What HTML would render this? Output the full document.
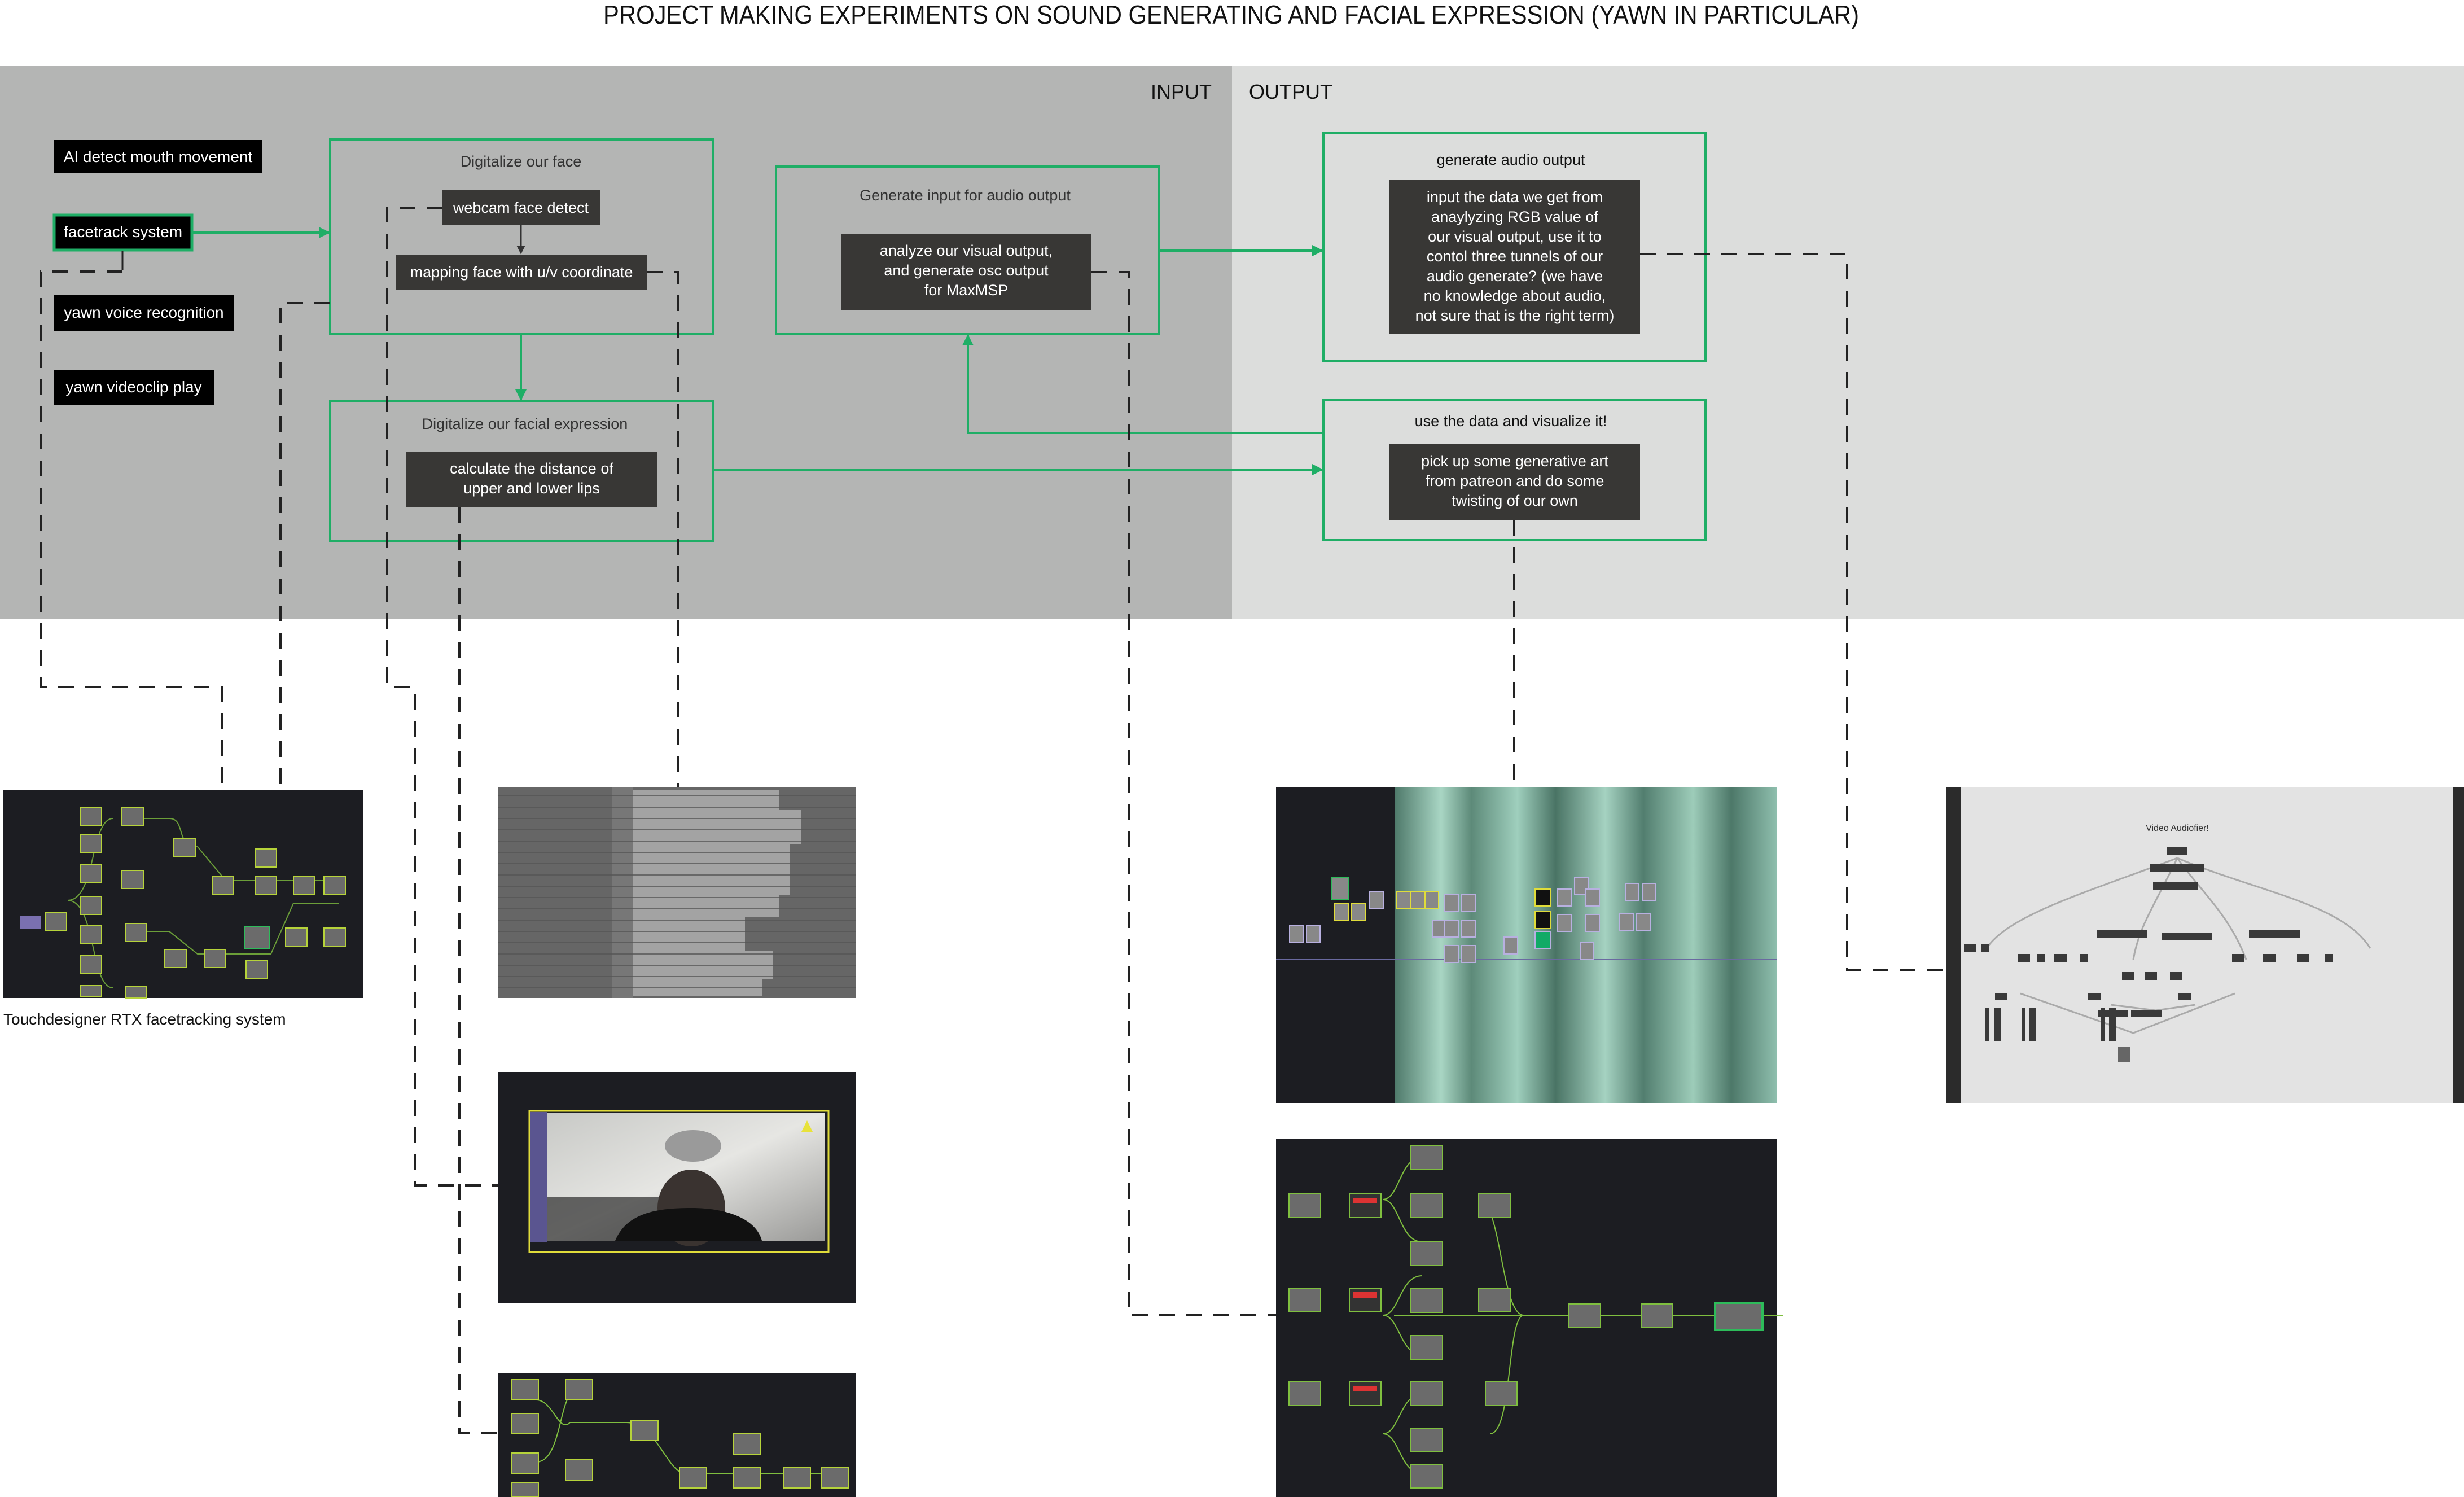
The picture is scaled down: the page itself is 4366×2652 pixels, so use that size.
<!DOCTYPE html>
<html><head><meta charset="utf-8"><style>
html,body{margin:0;padding:0;background:#fff}
svg{display:block}
text{font-family:"Liberation Sans Narrow","Liberation Sans",sans-serif}
</style></head><body>
<svg width="4366" height="2652" viewBox="0 0 4366 2652" xmlns="http://www.w3.org/2000/svg">
<defs>
<marker id="ah" viewBox="0 0 10 10" refX="9" refY="5" markerWidth="5" markerHeight="5" orient="auto"><path d="M0,0 L10,5 L0,10 z" fill="#1fae66"/></marker>
<marker id="ahk" viewBox="0 0 10 10" refX="9" refY="5" markerWidth="5" markerHeight="5" orient="auto"><path d="M0,0 L10,5 L0,10 z" fill="#333"/></marker>
<linearGradient id="fur" x1="0" x2="1" y1="0" y2="0">
<stop offset="0" stop-color="#4f7a6b"/><stop offset="0.12" stop-color="#a9d6c4"/><stop offset="0.2" stop-color="#5d8a79"/>
<stop offset="0.32" stop-color="#9fcfbd"/><stop offset="0.42" stop-color="#4a7465"/><stop offset="0.55" stop-color="#a5d2c1"/>
<stop offset="0.65" stop-color="#527e6f"/><stop offset="0.78" stop-color="#9dccb9"/><stop offset="0.88" stop-color="#4d7869"/><stop offset="1" stop-color="#8fbfae"/>
</linearGradient>
<linearGradient id="room" x1="0" x2="1" y1="0" y2="1">
<stop offset="0" stop-color="#c8c9c6"/><stop offset="0.5" stop-color="#e6e6e3"/><stop offset="1" stop-color="#9a9a98"/>
</linearGradient>
</defs>

<text x="1069" y="42" font-size="46" textLength="2225" lengthAdjust="spacingAndGlyphs" fill="#111">PROJECT MAKING EXPERIMENTS ON SOUND GENERATING AND FACIAL EXPRESSION (YAWN IN PARTICULAR)</text>

<rect x="0" y="117" width="2183" height="980" fill="#b4b5b4"/>
<rect x="2183" y="117" width="2183" height="980" fill="#dcdddc"/>
<text x="2147" y="175" font-size="36" text-anchor="end" fill="#111">INPUT</text>
<text x="2213" y="175" font-size="36" fill="#111">OUTPUT</text>

<rect x="95" y="248" width="370" height="58" fill="#000"/>
<text x="280" y="287" font-size="28" fill="#fff" text-anchor="middle">AI detect mouth movement</text>
<rect x="96" y="381" width="244" height="62" fill="#000" stroke="#1fae66" stroke-width="5"/>
<text x="218" y="420" font-size="28" fill="#fff" text-anchor="middle">facetrack system</text>
<rect x="95" y="523" width="320" height="63" fill="#000"/>
<text x="255" y="563" font-size="28" fill="#fff" text-anchor="middle">yawn voice recognition</text>
<rect x="95" y="655" width="285" height="62" fill="#000"/>
<text x="237" y="695" font-size="28" fill="#fff" text-anchor="middle">yawn videoclip play</text>

<g fill="none" stroke="#1fae66" stroke-width="4">
<rect x="585" y="247" width="678" height="345"/>
<rect x="585" y="710" width="678" height="248"/>
<rect x="1375" y="295" width="678" height="297"/>
<rect x="2345" y="236" width="677" height="404"/>
<rect x="2345" y="709" width="677" height="247"/>
</g>
<g font-size="27" fill="#333" text-anchor="middle">
<text x="923" y="295">Digitalize our face</text>
<text x="930" y="760">Digitalize our facial expression</text>
<text x="1710" y="355">Generate input for audio output</text>
</g>
<g font-size="27" fill="#111" text-anchor="middle">
<text x="2677" y="292">generate audio output</text>
<text x="2677" y="755">use the data and visualize it!</text>
</g>

<g fill="#383735">
<rect x="784" y="337" width="280" height="61"/>
<rect x="702" y="451" width="444" height="62"/>
<rect x="720" y="800" width="445" height="98"/>
<rect x="1490" y="414" width="444" height="136"/>
<rect x="2462" y="319" width="444" height="272"/>
<rect x="2462" y="786" width="444" height="135"/>
</g>
<g font-size="27" fill="#fff" text-anchor="middle">
<text x="923" y="377">webcam face detect</text>
<text x="924" y="491">mapping face with u/v coordinate</text>
<text x="942" y="839">calculate the distance of</text>
<text x="942" y="874">upper and lower lips</text>
<text x="1712" y="453">analyze our visual output,</text>
<text x="1712" y="488">and generate osc output</text>
<text x="1712" y="523">for MaxMSP</text>
<text x="2684" y="358">input the data we get from</text>
<text x="2684" y="393">anaylyzing RGB value of</text>
<text x="2684" y="428">our visual output, use it to</text>
<text x="2684" y="463">contol three tunnels of our</text>
<text x="2684" y="498">audio generate? (we have</text>
<text x="2684" y="533">no knowledge about audio,</text>
<text x="2684" y="568">not sure that is the right term)</text>
<text x="2684" y="826">pick up some generative art</text>
<text x="2684" y="861">from patreon and do some</text>
<text x="2684" y="896">twisting of our own</text>
</g>

<g stroke="#1fae66" stroke-width="4" fill="none">
<line x1="341" y1="412" x2="583" y2="412" marker-end="url(#ah)"/>
<line x1="923" y1="592" x2="923" y2="708" marker-end="url(#ah)"/>
<line x1="2053" y1="444" x2="2343" y2="444" marker-end="url(#ah)"/>
<line x1="1263" y1="832" x2="2343" y2="832" marker-end="url(#ah)"/>
<polyline points="2345,767 1715,767 1715,594" marker-end="url(#ah)"/>
</g>
<line x1="923" y1="398" x2="923" y2="449" stroke="#333" stroke-width="3" marker-end="url(#ahk)"/>

<g stroke="#222" stroke-width="4" fill="none" stroke-dasharray="28,20">
<polyline points="217,444 217,478"  stroke-dasharray="none" stroke-width="3"/>
<polyline points="217,481 72,481 72,1217 393,1217 393,1400"/>
<polyline points="585,537 497,537 497,1400"/>
<polyline points="784,368 686,368 686,1217 735,1217 735,2100 883,2100"/>
<polyline points="1146,482 1201,482 1201,1395"/>
<polyline points="814,898 814,2539 883,2539"/>
<polyline points="1934,482 2000,482 2000,2330 2261,2330"/>
<polyline points="2906,450 3273,450 3273,1718 3449,1718"/>
<polyline points="2683,921 2683,1395"/>
</g>

<rect x="6" y="1400" width="637" height="368" fill="#1c1d22"/>
<g stroke="#7fbf3f" stroke-width="2" fill="none" opacity="0.8">
<path d="M120,1595 C170,1595 160,1450 200,1450"/><path d="M120,1595 C170,1595 160,1750 200,1750"/>
<path d="M250,1450 L300,1450 C330,1450 310,1500 350,1500 L400,1560 L480,1560 L600,1560"/>
<path d="M250,1650 L300,1650 L350,1690 L480,1690 L520,1600 L600,1600"/>
</g>
<g fill="#6b6b6b" stroke="#b6d33a" stroke-width="2">
<rect x="142" y="1430" width="38" height="32"/><rect x="142" y="1478" width="38" height="32"/>
<rect x="142" y="1532" width="38" height="32"/><rect x="142" y="1588" width="38" height="32"/>
<rect x="142" y="1640" width="38" height="32"/><rect x="142" y="1692" width="38" height="32"/>
<rect x="142" y="1746" width="38" height="20"/>
<rect x="216" y="1430" width="38" height="32"/><rect x="216" y="1542" width="38" height="32"/>
<rect x="222" y="1636" width="38" height="32"/><rect x="222" y="1748" width="38" height="20"/>
<rect x="308" y="1486" width="38" height="32"/><rect x="376" y="1552" width="38" height="32"/>
<rect x="452" y="1552" width="38" height="32"/><rect x="452" y="1504" width="38" height="32"/>
<rect x="520" y="1552" width="38" height="32"/><rect x="574" y="1552" width="38" height="32"/>
<rect x="292" y="1682" width="38" height="32"/><rect x="362" y="1682" width="38" height="32"/>
<rect x="436" y="1702" width="38" height="32"/><rect x="506" y="1644" width="38" height="32"/>
<rect x="574" y="1644" width="38" height="32"/><rect x="80" y="1616" width="38" height="32"/>
<rect x="434" y="1641" width="44" height="40" stroke="#2dbb5a"/>
</g>
<rect x="36" y="1622" width="36" height="24" fill="#7a70b0"/>
<text x="6" y="1815" font-size="28" fill="#111" font-family="Liberation Sans,sans-serif">Touchdesigner RTX facetracking system</text>

<rect x="883" y="1395" width="634" height="373" fill="#666"/>
<g fill="#a3a3a3">
<rect x="1120" y="1400" width="260" height="35"/><rect x="1120" y="1435" width="300" height="60"/>
<rect x="1120" y="1495" width="280" height="90"/><rect x="1120" y="1585" width="260" height="40"/>
<rect x="1120" y="1625" width="200" height="60"/><rect x="1120" y="1685" width="250" height="50"/>
<rect x="1120" y="1735" width="230" height="30"/>
</g>
<rect x="1085" y="1395" width="36" height="373" fill="#777"/>
<g stroke="#555" stroke-width="1.5">
<line x1="883" y1="1410" x2="1517" y2="1410"/><line x1="883" y1="1430" x2="1517" y2="1430"/><line x1="883" y1="1450" x2="1517" y2="1450"/><line x1="883" y1="1470" x2="1517" y2="1470"/><line x1="883" y1="1490" x2="1517" y2="1490"/><line x1="883" y1="1510" x2="1517" y2="1510"/><line x1="883" y1="1530" x2="1517" y2="1530"/><line x1="883" y1="1550" x2="1517" y2="1550"/><line x1="883" y1="1570" x2="1517" y2="1570"/><line x1="883" y1="1590" x2="1517" y2="1590"/><line x1="883" y1="1610" x2="1517" y2="1610"/><line x1="883" y1="1630" x2="1517" y2="1630"/><line x1="883" y1="1650" x2="1517" y2="1650"/><line x1="883" y1="1670" x2="1517" y2="1670"/><line x1="883" y1="1690" x2="1517" y2="1690"/><line x1="883" y1="1710" x2="1517" y2="1710"/><line x1="883" y1="1730" x2="1517" y2="1730"/><line x1="883" y1="1750" x2="1517" y2="1750"/>
</g>

<rect x="883" y="1899" width="634" height="409" fill="#1c1d22"/>
<rect x="938" y="1968" width="530" height="250" fill="none" stroke="#e0dc3a" stroke-width="3"/>
<rect x="940" y="1970" width="30" height="230" fill="#5a5590"/>
<rect x="970" y="1972" width="492" height="226" fill="url(#room)"/>
<rect x="970" y="2120" width="250" height="78" fill="#2a2a2a" opacity="0.7"/>
<ellipse cx="1225" cy="2140" rx="60" ry="68" fill="#3a3330"/>
<path d="M1090,2198 C1110,2150 1160,2140 1225,2140 C1290,2140 1340,2160 1350,2198 Z" fill="#111"/>
<ellipse cx="1228" cy="2030" rx="50" ry="28" fill="#9a9a9a"/>
<path d="M1430,1985 L1440,2005 L1420,2005 Z" fill="#e8e23a"/>

<rect x="883" y="2433" width="634" height="219" fill="#1c1d22"/>
<g stroke="#7fbf3f" stroke-width="2" fill="none"><path d="M950,2480 C980,2480 990,2540 1010,2520 L1110,2520 C1160,2520 1180,2600 1210,2610 L1500,2610"/><path d="M950,2590 C990,2590 990,2500 1010,2470"/></g>
<g fill="#6b6b6b" stroke="#b6d33a" stroke-width="2">
<rect x="906" y="2444" width="48" height="36"/><rect x="1002" y="2444" width="48" height="36"/>
<rect x="906" y="2504" width="48" height="36"/><rect x="906" y="2574" width="48" height="36"/>
<rect x="1002" y="2586" width="48" height="36"/><rect x="1118" y="2516" width="48" height="36"/>
<rect x="1204" y="2600" width="48" height="36"/><rect x="1300" y="2600" width="48" height="36"/>
<rect x="1300" y="2540" width="48" height="36"/><rect x="1388" y="2600" width="48" height="36"/>
<rect x="1456" y="2600" width="48" height="36"/><rect x="906" y="2626" width="48" height="26"/>
</g>

<rect x="2261" y="1395" width="888" height="559" fill="#1c1d22"/>
<rect x="2472" y="1395" width="677" height="559" fill="url(#fur)"/>
<line x1="2261" y1="1700" x2="3149" y2="1700" stroke="#6a6aa0" stroke-width="2"/>
<g fill="#888" stroke="#b8b0e0" stroke-width="2">
<rect x="2285" y="1640" width="24" height="30"/><rect x="2315" y="1640" width="24" height="30"/>
<rect x="2365" y="1600" width="24" height="30" stroke="#e0dc3a"/><rect x="2395" y="1600" width="24" height="30" stroke="#e0dc3a"/>
<rect x="2427" y="1580" width="24" height="30"/><rect x="2475" y="1580" width="24" height="30" stroke="#e0dc3a"/>
<rect x="2500" y="1580" width="24" height="30" stroke="#e0dc3a"/><rect x="2525" y="1580" width="24" height="30" stroke="#e0dc3a"/>
<rect x="2560" y="1585" width="24" height="30"/><rect x="2590" y="1585" width="24" height="30"/>
<rect x="2538" y="1630" width="24" height="30"/><rect x="2560" y="1630" width="24" height="30"/><rect x="2590" y="1630" width="24" height="30"/>
<rect x="2560" y="1675" width="24" height="30"/><rect x="2590" y="1675" width="24" height="30"/>
<rect x="2665" y="1660" width="24" height="30"/><rect x="2720" y="1615" width="28" height="30" fill="#111" stroke="#e0dc3a"/>
<rect x="2720" y="1575" width="28" height="30" fill="#111" stroke="#e0dc3a"/><rect x="2720" y="1650" width="28" height="30" fill="#1a6"/>
<rect x="2760" y="1575" width="24" height="30"/><rect x="2790" y="1555" width="24" height="30"/>
<rect x="2810" y="1575" width="24" height="30"/><rect x="2760" y="1620" width="24" height="30"/>
<rect x="2810" y="1620" width="24" height="30"/><rect x="2880" y="1565" width="24" height="30"/><rect x="2910" y="1565" width="24" height="30"/>
<rect x="2870" y="1618" width="24" height="30"/><rect x="2900" y="1618" width="24" height="30"/><rect x="2800" y="1670" width="24" height="30"/>
<rect x="2360" y="1555" width="30" height="38" stroke="#2dbb5a"/>
</g>

<rect x="2261" y="2018" width="888" height="634" fill="#1c1d22"/>
<g stroke="#7fbf3f" stroke-width="2" fill="none">
<path d="M2470,2330 L2930,2330 L3160,2330"/><path d="M2450,2125 C2480,2125 2480,2050 2520,2050"/><path d="M2450,2125 C2480,2125 2480,2200 2520,2200"/>
<path d="M2450,2330 C2480,2330 2480,2260 2520,2260"/><path d="M2450,2330 C2480,2330 2480,2400 2520,2400"/>
<path d="M2450,2540 C2480,2540 2480,2470 2520,2470"/><path d="M2450,2540 C2480,2540 2480,2610 2520,2610"/>
<path d="M2620,2125 C2660,2125 2660,2330 2700,2330"/><path d="M2640,2540 C2680,2540 2670,2330 2700,2330"/>
</g>
<g fill="#6b6b6b" stroke="#7fbf3f" stroke-width="2">
<rect x="2284" y="2115" width="56" height="42"/>
<rect x="2284" y="2282" width="56" height="42"/><rect x="2284" y="2448" width="56" height="42"/>
<rect x="2391" y="2115" width="56" height="42" fill="#333"/><rect x="2391" y="2282" width="56" height="42" fill="#333"/><rect x="2391" y="2448" width="56" height="42" fill="#333"/>
<rect x="2500" y="2030" width="56" height="42"/><rect x="2500" y="2115" width="56" height="42"/><rect x="2500" y="2200" width="56" height="42"/>
<rect x="2500" y="2283" width="56" height="42"/><rect x="2500" y="2366" width="56" height="42"/><rect x="2500" y="2448" width="56" height="42"/>
<rect x="2500" y="2530" width="56" height="42"/><rect x="2500" y="2594" width="56" height="42"/>
<rect x="2620" y="2115" width="56" height="42"/><rect x="2620" y="2282" width="56" height="42"/><rect x="2632" y="2448" width="56" height="42"/>
<rect x="2780" y="2310" width="56" height="42"/><rect x="2908" y="2310" width="56" height="42"/>
<rect x="3039" y="2308" width="84" height="48" stroke="#2dbb5a" stroke-width="4"/>
</g>
<g fill="#d33"><rect x="2398" y="2122" width="42" height="10"/><rect x="2398" y="2289" width="42" height="10"/><rect x="2398" y="2455" width="42" height="10"/></g>

<rect x="3449" y="1395" width="917" height="559" fill="#e3e3e3"/>
<rect x="3449" y="1395" width="26" height="559" fill="#2b2b2b"/>
<rect x="4346" y="1395" width="20" height="559" fill="#2b2b2b"/>
<text x="3858" y="1472" font-size="16" fill="#333" text-anchor="middle">Video Audiofier!</text>
<g stroke="#aaa" stroke-width="3" fill="none">
<path d="M3858,1520 C3700,1580 3560,1620 3520,1680"/><path d="M3858,1520 C3900,1580 3950,1620 3980,1700"/>
<path d="M3858,1520 C4000,1580 4150,1600 4200,1680"/><path d="M3858,1520 C3820,1600 3790,1640 3780,1700"/>
<path d="M3580,1760 L3780,1830 L3960,1760"/><path d="M3740,1780 L3820,1790 L3890,1780"/>
</g>
<g fill="#3a3a3a">
<rect x="3840" y="1500" width="36" height="14"/><rect x="3810" y="1530" width="96" height="14"/><rect x="3815" y="1563" width="80" height="14"/>
<rect x="3715" y="1648" width="90" height="14"/><rect x="3830" y="1652" width="90" height="14"/><rect x="3985" y="1648" width="90" height="14"/>
<rect x="3480" y="1672" width="22" height="14"/><rect x="3510" y="1672" width="14" height="14"/><rect x="3575" y="1690" width="22" height="14"/><rect x="3610" y="1690" width="14" height="14"/>
<rect x="3640" y="1690" width="22" height="14"/><rect x="3685" y="1690" width="14" height="14"/><rect x="3760" y="1722" width="22" height="14"/>
<rect x="3800" y="1722" width="22" height="14"/><rect x="3845" y="1722" width="22" height="14"/><rect x="3955" y="1690" width="22" height="14"/>
<rect x="4010" y="1690" width="22" height="14"/><rect x="4070" y="1690" width="22" height="14"/><rect x="4120" y="1690" width="14" height="14"/>
<rect x="3535" y="1760" width="22" height="12"/><rect x="3700" y="1760" width="22" height="12"/><rect x="3860" y="1760" width="22" height="12"/>
<rect x="3717" y="1790" width="54" height="12"/><rect x="3776" y="1790" width="54" height="12"/>
<rect x="3518" y="1785" width="6" height="60"/><rect x="3533" y="1785" width="12" height="60"/>
<rect x="3582" y="1785" width="6" height="60"/><rect x="3596" y="1785" width="12" height="60"/>
<rect x="3723" y="1785" width="6" height="60"/><rect x="3737" y="1785" width="12" height="60"/>
<rect x="3753" y="1855" width="22" height="26" fill="#666"/>
</g>
</svg>
</body></html>
